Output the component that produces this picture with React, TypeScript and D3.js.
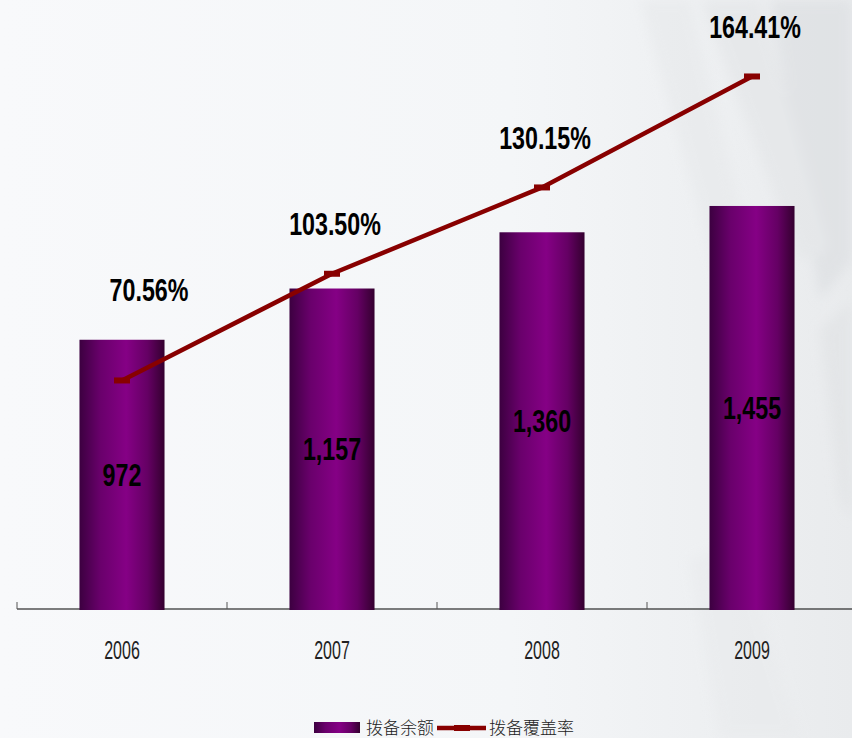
import React from "react";
import * as d3 from "d3";

const years = ["2006", "2007", "2008", "2009"];
const provisionBalance = [972, 1157, 1360, 1455];
const coverageRatio = [70.56, 103.5, 130.15, 164.41];
const barLegend = "拨备余额";
const lineLegend = "拨备覆盖率";

const W = 852;
const H = 738;
const baseY = 609;

const NarrowText = ({ x, y, sx, children, ...rest }: any) => (
  <text transform={`translate(${x},${y}) scale(${sx},1)`} x={0} y={0} {...rest}>
    {children}
  </text>
);

export default function App() {
  const x = d3.scaleBand<string>().domain(years).range([17, 857]).padding(0);
  const bw = x.bandwidth() * 0.405;
  const yBar = d3.scaleLinear().domain([0, 2200]).range([baseY, baseY - 2200 * 0.277]);
  const yLine = d3.scaleLinear().domain([0, 200]).range([baseY, baseY - 200 * 3.239]);
  const cx = (d: string) => (x(d) as number) + x.bandwidth() / 2;
  const pts: [number, number][] = years.map((y, i) => [cx(y), yLine(coverageRatio[i])]);
  const lineGen = d3.line();
  const fmt = d3.format(",");
  const font = "'Liberation Sans', Arial, sans-serif";

  return (
    <svg width={W} height={H} style={{ position: "absolute", left: 0, top: 0 }}>
      <defs>
        <linearGradient id="barGrad" x1="0" x2="1" y1="0" y2="0">
          <stop offset="0" stopColor="#3c0040" />
          <stop offset="0.25" stopColor="#6a006c" />
          <stop offset="0.55" stopColor="#850085" />
          <stop offset="0.8" stopColor="#650064" />
          <stop offset="1" stopColor="#34002f" />
        </linearGradient>
        <linearGradient id="bgGrad" x1="0" x2="1" y1="0" y2="0">
          <stop offset="0" stopColor="#f8f9fb" />
          <stop offset="0.6" stopColor="#f4f6f8" />
          <stop offset="1" stopColor="#e9ebed" />
        </linearGradient>
        <filter id="blur" x="-20%" y="-20%" width="140%" height="140%">
          <feGaussianBlur stdDeviation="6" />
        </filter>
      </defs>
      <rect x={0} y={0} width={W} height={H} fill="url(#bgGrad)" />
      <g filter="url(#blur)" opacity={0.55}>
        <polygon points="770,0 852,0 852,260 820,300" fill="#d9dcdf" />
        <polygon points="700,0 760,0 830,250 800,260" fill="#e2e4e6" />
        <polygon points="640,0 690,0 790,420 760,430" fill="#e6e8ea" />
        <polygon points="820,330 852,300 852,520 840,500" fill="#dfe1e3" />
        <polygon points="690,560 740,540 800,738 720,738" fill="#e8eaec" />
      </g>

      {/* axis */}
      <line x1={17} x2={W} y1={baseY} y2={baseY} stroke="#000" strokeWidth={1.2} />
      {years.map((y) => (
        <line key={"t" + y} x1={x(y)} x2={x(y)} y1={baseY} y2={baseY - 7} stroke="#555" strokeWidth={1} />
      ))}

      {/* bars */}
      {years.map((y, i) => (
        <rect
          key={"b" + y}
          x={cx(y) - bw / 2}
          y={yBar(provisionBalance[i])}
          width={bw}
          height={baseY - yBar(provisionBalance[i]) + 1}
          fill="url(#barGrad)"
        />
      ))}

      {/* bar labels */}
      {years.map((y, i) => (
        <NarrowText
          key={"bl" + y}
          x={cx(y)}
          y={(yBar(provisionBalance[i]) + baseY) / 2}
          sx={0.75}
          dy="0.36em"
          textAnchor="middle"
          fontFamily={font}
          fontWeight="bold"
          fontSize={31}
          fill="#000"
        >
          {fmt(provisionBalance[i])}
        </NarrowText>
      ))}

      {/* line */}
      <path d={lineGen(pts) || ""} fill="none" stroke="#880000" strokeWidth={4.5} />
      {pts.map((p, i) => (
        <rect key={"m" + i} x={p[0] - 8} y={p[1] - 3} width={16} height={6} fill="#880000" />
      ))}

      {/* line labels */}
      {years.map((y, i) => {
        const ly = yLine(coverageRatio[i]);
        const by = yBar(provisionBalance[i]);
        const dx = ly > by ? 27 : 3;
        return (
          <NarrowText
            key={"ll" + y}
            x={cx(y) + dx}
            y={Math.min(ly, by) - 50}
            sx={0.75}
            dy="0.36em"
            textAnchor="middle"
            fontFamily={font}
            fontWeight="bold"
            fontSize={31}
            fill="#000"
          >
            {coverageRatio[i].toFixed(2) + "%"}
          </NarrowText>
        );
      })}

      {/* x labels */}
      {years.map((y) => (
        <NarrowText
          key={"xl" + y}
          x={cx(y)}
          y={650}
          sx={0.64}
          dy="0.36em"
          textAnchor="middle"
          fontFamily={font}
          fontSize={25}
          fill="#222"
        >
          {y}
        </NarrowText>
      ))}

      {/* legend */}
      <rect x={314} y={722} width={46} height={11} fill="url(#barGrad)" />
      <text x={366} y={728} dy="0.36em" fontFamily="'Noto Sans CJK SC', sans-serif" fontWeight={300} fontSize={17} fill="#222">
        {barLegend}
      </text>
      <line x1={437} x2={486} y1={728} y2={728} stroke="#880000" strokeWidth={4.5} />
      <rect x={454} y={725} width={16} height={6} fill="#880000" />
      <text x={489} y={728} dy="0.36em" fontFamily="'Noto Sans CJK SC', sans-serif" fontWeight={300} fontSize={17} fill="#222">
        {lineLegend}
      </text>
    </svg>
  );
}
